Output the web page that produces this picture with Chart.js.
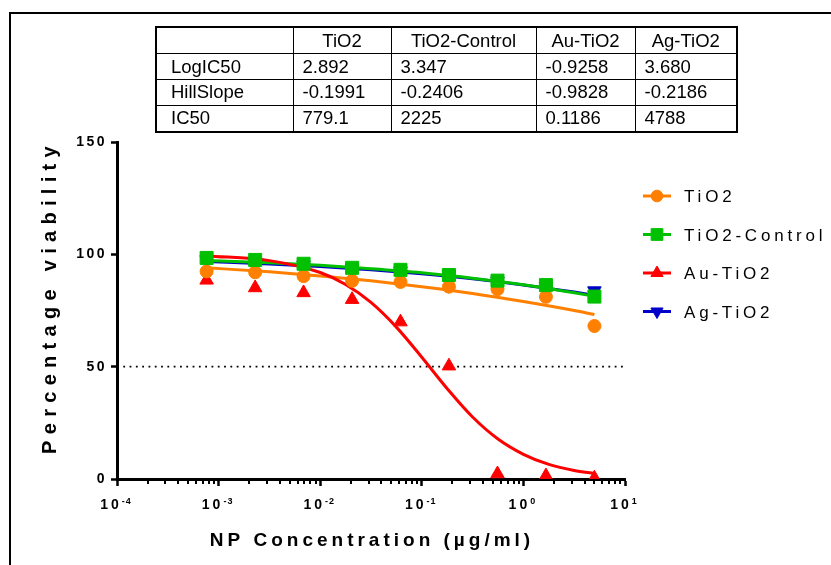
<!DOCTYPE html>
<html>
<head>
<meta charset="utf-8">
<script src="https://cdn.jsdelivr.net/npm/chart.js@4.4.0/dist/chart.umd.min.js"></script>
<style>
  html, body { margin: 0; padding: 0; background: #fff; }
  #wrap { position: relative; width: 831px; height: 565px; overflow: hidden; }
  #frame { position: absolute; left: 9px; top: 12px; width: 900px; height: 700px; border-left: 2px solid #000; border-top: 2px solid #000; }
  #chart { position: absolute; left: 0; top: 0; }
  #params { position: absolute; left: 155px; top: 26px; width: 581px; height: 107px; border-collapse: collapse; table-layout: fixed;
            font-family: 'Liberation Sans', Arial, sans-serif; font-size: 18.5px; color: #000; border: 2px solid #000; }
  #params td { border: 1px solid #000; padding: 0 0 0 9px; white-space: nowrap; overflow: hidden; }
  #params td:first-child { padding-left: 14px; }
  #params tr:first-child td { text-align: center; padding: 0; }
</style>
</head>
<body>
<div id="wrap">
  <div id="frame"></div>
  <canvas id="chart" width="831" height="565"></canvas>
  <table id="params">
    <colgroup><col style="width:137px"><col style="width:98px"><col style="width:145px"><col style="width:99px"><col style="width:102px"></colgroup>
    <tbody></tbody>
  </table>
</div>
<script>
// Measured viability (%) at each NP concentration (µg/ml)
const concentrations = [0.000762, 0.00229, 0.00686, 0.0206, 0.0617, 0.185, 0.556, 1.667, 5];
const tio2Viability = [92.4, 92.0, 90.3, 88.2, 87.7, 85.6, 84.5, 81.1, 68.1];
const controlViability = [98.4, 97.5, 95.8, 94.0, 93.1, 90.8, 88.3, 86.3, 81.2];
const auViability = [88.5, 85.1, 82.9, 79.9, 69.9, 50.3, 2.3, 1.4, 0.4];
const agViability = [97.6, 96.6, 95.3, 93.6, 92.6, 91.0, 88.0, 85.8, 83.8];

// Fitted dose-response curves
const curveConc = [0.000762, 0.00316, 0.01, 0.0316, 0.1, 0.316, 1, 3.16, 5];
const tio2Fit = [94.0, 92.2, 90.4, 88.2, 85.6, 82.6, 79.0, 75.0, 73.2];
const controlFit = [97.3, 96.2, 95.1, 93.6, 91.8, 89.4, 86.5, 82.9, 81.3];
const agFit = [96.8, 95.7, 94.6, 93.1, 91.3, 89.1, 86.4, 83.2, 81.8];
const auCurveConc = [0.000762, 0.00316, 0.01, 0.0178, 0.0316, 0.0562, 0.1, 0.178, 0.316, 0.562, 1, 1.78, 3.16, 5];
const auFit = [99.3, 97.2, 91.9, 86.6, 78.6, 67.6, 54.2, 40.2, 27.6, 17.8, 11.0, 6.5, 3.8, 2.5];

// 50 % reference line
const cutoffConc = [0.0001, 10];
const cutoffLevel = [50, 50];

// Axes
const xTickValues = [0.0001, 0.001, 0.01, 0.1, 1, 10];
const xTickExponents = ['-4', '-3', '-2', '-1', '0', '1'];
const yTickValues = [0, 50, 100, 150];

// Fit results table
const tableHeader = ['', 'TiO2', 'TiO2-Control', 'Au-TiO2', 'Ag-TiO2'];
const tableRows = [
    ['LogIC50', '2.892', '3.347', '-0.9258', '3.680'],
    ['HillSlope', '-0.1991', '-0.2406', '-0.9828', '-0.2186'],
    ['IC50', '779.1', '2225', '0.1186', '4788']
];

const seriesNames = ['TiO2', 'TiO2-Control', 'Au-TiO2', 'Ag-TiO2'];
const seriesColors = ['#FF8000', '#00C000', '#FF0000', '#0000C8'];
const seriesMarkers = [
    { pointStyle: 'circle', radius: 6.5, rotation: 0 },
    { pointStyle: 'rect', radius: 9.2, rotation: 0 },
    { pointStyle: 'triangle', radius: 7.8, rotation: 0 },
    { pointStyle: 'triangle', radius: 7.8, rotation: 180 }
];

// Build the table
const tbody = document.querySelector('#params tbody');
[tableHeader].concat(tableRows).forEach(row => {
    const tr = document.createElement('tr');
    row.forEach(cell => {
        const td = document.createElement('td');
        td.textContent = cell;
        tr.appendChild(td);
    });
    tbody.appendChild(tr);
});

function pairs(xs, ys) {
    return xs.map((x, i) => ({ x: x, y: ys[i] }));
}

function curveSet(label, xs, ys, color, order) {
    return { type: 'line', label: label, data: pairs(xs, ys), borderColor: color, borderWidth: 3,
             pointRadius: 0, cubicInterpolationMode: 'monotone', fill: false, order: order };
}

function pointSet(label, ys, idx, order) {
    const m = seriesMarkers[idx];
    return { type: 'scatter', label: label, data: pairs(concentrations, ys), showLine: false,
             backgroundColor: seriesColors[idx], borderColor: seriesColors[idx], pointBorderWidth: 1,
             pointStyle: m.pointStyle, pointRadius: m.radius, pointRotation: m.rotation, order: order };
}

const FONT = "'Liberation Sans', Arial, sans-serif";

// Extra drawing: minor ticks, superscript tick labels, titles and the legend
const decorPlugin = {
    id: 'decor',
    beforeDraw(chart) {
        chart.ctx.letterSpacing = '2.5px';
    },
    afterDraw(chart) {
        const ctx = chart.ctx;
        const xs = chart.scales.x;
        const area = chart.chartArea;
        ctx.save();
        ctx.fillStyle = '#000';
        ctx.strokeStyle = '#000';

        // minor log ticks
        ctx.lineWidth = 2;
        for (let k = -4; k < 1; k++) {
            for (let m = 2; m < 10; m++) {
                const px = Math.round(xs.getPixelForValue(m * Math.pow(10, k)));
                ctx.beginPath();
                ctx.moveTo(px, area.bottom);
                ctx.lineTo(px, area.bottom + 5);
                ctx.stroke();
            }
        }

        // x tick labels 10^n
        ctx.textAlign = 'left';
        ctx.textBaseline = 'alphabetic';
        xTickValues.forEach((v, i) => {
            const px = xs.getPixelForValue(v);
            ctx.font = 'bold 14px ' + FONT;
            ctx.letterSpacing = '3px';
            const w1 = ctx.measureText('10').width;
            ctx.font = 'bold 9px ' + FONT;
            ctx.letterSpacing = '1px';
            const w2 = ctx.measureText(xTickExponents[i]).width;
            const start = px - (w1 + w2) / 2 - 1;
            ctx.font = 'bold 14px ' + FONT;
            ctx.letterSpacing = '3px';
            ctx.fillText('10', start, 509);
            ctx.font = 'bold 9px ' + FONT;
            ctx.letterSpacing = '1px';
            ctx.fillText(xTickExponents[i], start + w1, 503.5);
        });

        // x title
        ctx.font = 'bold 19px ' + FONT;
        ctx.letterSpacing = '4px';
        ctx.textAlign = 'center';
        ctx.fillText('NP Concentration (µg/ml)', (area.left + area.right) / 2 + 1, 546);

        // y title
        ctx.save();
        ctx.translate(56, 300);
        ctx.rotate(-Math.PI / 2);
        ctx.font = 'bold 20px ' + FONT;
        ctx.letterSpacing = '6.3px';
        ctx.fillText('Percentage viability', 3, 0);
        ctx.restore();

        // legend
        const rowY = [196, 234.5, 273, 311.5];
        seriesNames.forEach((name, i) => {
            const y = rowY[i];
            ctx.strokeStyle = seriesColors[i];
            ctx.fillStyle = seriesColors[i];
            ctx.lineWidth = 3;
            ctx.beginPath();
            ctx.moveTo(643, y);
            ctx.lineTo(671, y);
            ctx.stroke();
            ctx.lineWidth = 1;
            const m = seriesMarkers[i];
            Chart.helpers.drawPoint(ctx, { pointStyle: m.pointStyle, radius: m.radius * 0.9, rotation: m.rotation, borderWidth: 1 }, 657, y);
            ctx.fillStyle = '#000';
            ctx.font = '17px ' + FONT;
            ctx.letterSpacing = '3.8px';
            ctx.textAlign = 'left';
            ctx.textBaseline = 'middle';
            ctx.fillText(name, 684, y + 1.5);
        });
        ctx.restore();
    }
};

new Chart(document.getElementById('chart'), {
    data: {
        datasets: [
            pointSet(seriesNames[1], controlViability, 1, 1),
            pointSet(seriesNames[0], tio2Viability, 0, 2),
            pointSet(seriesNames[3], agViability, 3, 3),
            pointSet(seriesNames[2], auViability, 2, 4),
            curveSet(seriesNames[2] + ' fit', auCurveConc, auFit, seriesColors[2], 5),
            curveSet(seriesNames[1] + ' fit', curveConc, controlFit, seriesColors[1], 6),
            curveSet(seriesNames[3] + ' fit', curveConc, agFit, seriesColors[3], 7),
            curveSet(seriesNames[0] + ' fit', curveConc, tio2Fit, seriesColors[0], 8),
            { type: 'line', label: '50%', data: pairs(cutoffConc, cutoffLevel), borderColor: '#000', borderWidth: 1.8,
              borderDash: [1.8, 4.5], pointRadius: 0, order: 9 }
        ]
    },
    options: {
        responsive: false,
        animation: false,
        devicePixelRatio: 1,
        layout: { padding: { top: 142, right: 206, bottom: 0, left: 0 } },
        plugins: { legend: { display: false }, tooltip: { enabled: false } },
        scales: {
            x: {
                type: 'logarithmic',
                position: 'bottom',
                min: 0.0001,
                max: 10,
                afterBuildTicks: s => { s.ticks = xTickValues.map(v => ({ value: v, major: true })); },
                afterFit: s => { s.height = 86; },
                ticks: { display: false },
                grid: { drawOnChartArea: false, drawTicks: true, tickLength: 7, tickWidth: 2.5, tickColor: '#000' },
                border: { display: true, color: '#000', width: 3 }
            },
            y: {
                min: 0,
                max: 150,
                afterBuildTicks: s => { s.ticks = yTickValues.map(v => ({ value: v })); },
                afterFit: s => { s.width = 117; },
                ticks: { font: { family: FONT, weight: 'bold', size: 14 }, color: '#000', padding: 4 },
                grid: { drawOnChartArea: false, drawTicks: true, tickLength: 6, tickWidth: 2.5, tickColor: '#000' },
                border: { display: true, color: '#000', width: 3 }
            }
        }
    },
    plugins: [decorPlugin]
});
</script>
</body>
</html>
